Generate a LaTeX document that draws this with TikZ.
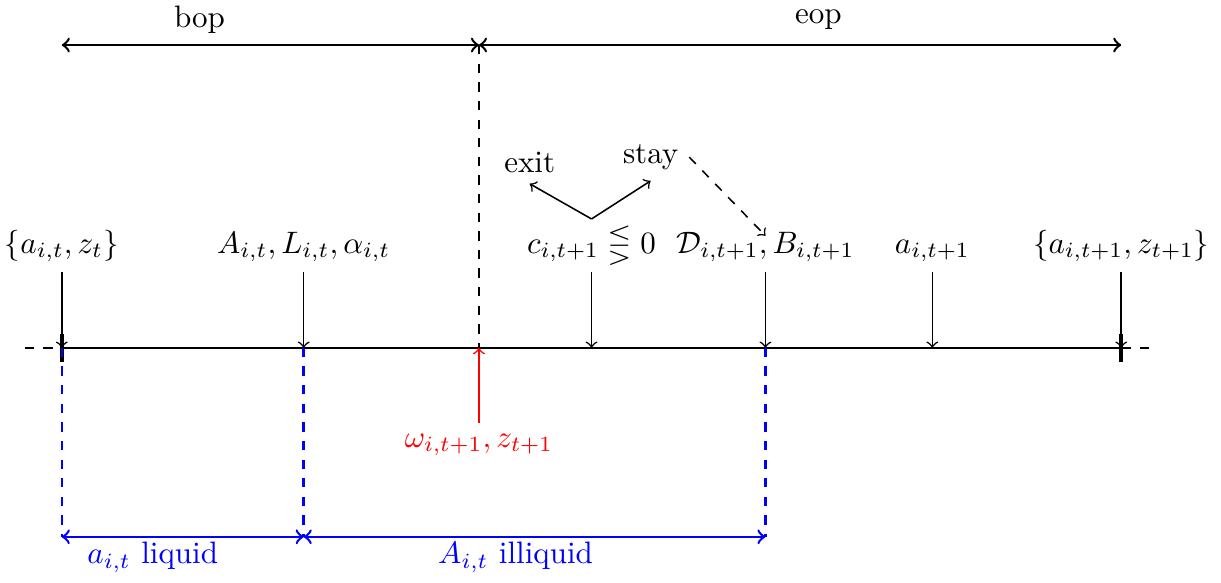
\documentclass[tikz,border=0pt]{standalone}
\usepackage{amsmath,amssymb}
\usepackage{xcolor}
\usepackage{tikz}
\usetikzlibrary{positioning}

\begin{document}
\begin{tikzpicture}[lbl/.style={anchor=south, text depth=0.25em}, tip/.style={->, line width=0.5pt}]
		\useasboundingbox (-0.70,-2.66) rectangle (13.13,3.94);
		% points on the time line
		\coordinate (t0) at (0,0);
		\coordinate (t1) at (2.74,0);
		\coordinate (t2) at (4.725,0);
		\coordinate (t3) at (6,0);
		\coordinate (t4) at (7.97,0);
		\coordinate (t5) at (9.86,0);
		\coordinate (t6) at (12,0);
		\coordinate (tl) at (-0.42,0);
		\coordinate (tr) at (12.42,0);
		
		\draw[thick] (t0) -- (t6);
		\draw[thick, dashed] (tl) -- (t0);
		\draw[thick, dashed] (t6) -- (tr);
		\draw[very thick] (0,-0.16) -- (0,0.16);
		\draw[very thick] (12,-0.16) -- (12,0.16);
		
		% labels above the line
		\node[lbl] (l0) at (0,0.86) {$\{a_{i,t}, z_t\}$};
		\node[lbl] (l1) at (2.74,0.86) {$A_{i,t}, L_{i,t}, \alpha_{i,t}$};
		\node[lbl] (l3) at (6,0.86) {$c_{i,t+1} \lesseqgtr 0$};
		\node[lbl] (l4) at (7.97,0.86) {$\mathcal{D}_{i,t+1}, B_{i,t+1}$};
		\node[lbl] (l5) at (9.86,0.86) {$a_{i,t+1}$};
		\node[lbl] (l6) at (12,0.86) {$\{a_{i,t+1}, z_{t+1}\}$};
		
		\draw[tip] (l0) -- (t0);
		\draw[tip] (l1) -- (t1);
		\draw[tip] (l3) -- (t3);
		\draw[tip] (l4) -- (t4);
		\draw[tip] (l5) -- (t5);
		\draw[tip] (l6) -- (t6);
		
		% exit or stay
		\coordinate (fork) at (6,1.46);
		\coordinate (dtip) at (7.97,1.27);
		\node (exit) at (5.3,2.1) {exit};
		\node (stay) at (6.67,2.16) {stay};
		\draw[tip] (fork) -- (exit.south);
		\draw[tip] (fork) -- (stay.south);
		\draw[tip, dashed] (stay.east) -- (dtip);
		
		% bop / eop
		\coordinate (b0) at (0,3.43);
		\coordinate (b1) at (4.725,3.43);
		\coordinate (b2) at (12,3.43);
		\draw[thick, <->] (b0) -- (b1);
		\draw[thick, <->] (b1) -- (b2);
		\draw[thick, dashed] (b1) -- (t2);
		\node (bop) at (1.56,3.72) {bop};
		\node (eop) at (8.57,3.72) {eop};
		
		% shock
		\node[red] (shock) at (4.725,-1.1) {$\omega_{i,t+1}, z_{t+1}$};
		\draw[tip, red] (shock) -- (t2);
		
		% liquid / illiquid
		\coordinate (d0) at (0,-2.14);
		\coordinate (d1) at (2.74,-2.14);
		\coordinate (d4) at (7.97,-2.14);
		\draw[thick, dashed, blue] (t0) -- (d0);
		\draw[thick, dashed, blue] (t1) -- (d1);
		\draw[thick, dashed, blue] (t4) -- (d4);
		\draw[thick, <->, blue] (d0) -- (d1);
		\draw[thick, <->, blue] (d1) -- (d4);
		\node[blue] (liq) at (1.03,-2.37) {$a_{i,t}$ liquid};
		\node[blue] (illiq) at (5.14,-2.37) {$A_{i,t}$ illiquid};
\end{tikzpicture}
\end{document}
